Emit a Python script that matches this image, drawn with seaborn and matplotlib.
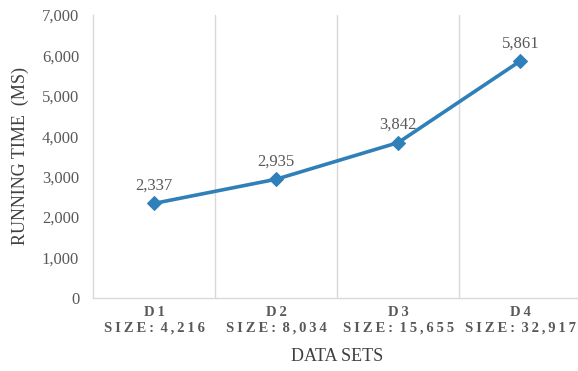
import matplotlib
matplotlib.use("Agg")
import matplotlib.pyplot as plt
import seaborn as sns
import pandas as pd
from matplotlib.ticker import FuncFormatter

datasets = ["D1", "D2", "D3", "D4"]
sizes = ["4,216", "8,034", "15,655", "32,917"]
running_time = [2337, 2935, 3842, 5861]

sns.set_style("white")
plt.rcParams["font.family"] = ["Liberation Serif", "DejaVu Serif"]

df = pd.DataFrame({"pos": range(len(datasets)), "time": running_time})

fig = plt.figure(figsize=(5.78, 3.71), dpi=100)
ax = fig.add_axes([0.161, 0.197, 0.845, 0.763])

line_color = "#2f80b9"
sns.lineplot(data=df, x="pos", y="time", ax=ax, color=line_color, linewidth=2.6,
             marker="D", markersize=7.5, markeredgecolor=line_color,
             markerfacecolor=line_color)

for x, y in zip(df["pos"], df["time"]):
    ax.annotate(f"{y:,}", (x, y), xytext=(0, 7), textcoords="offset points",
                ha="center", va="bottom", fontsize=12, color="#595959")

ax.set_xlim(-0.5, 3.5)
ax.set_ylim(0, 7000)
ax.set_yticks(range(0, 7001, 1000))
ax.yaxis.set_major_formatter(FuncFormatter(lambda v, p: f"{int(v):,}"))
ax.tick_params(axis="y", labelsize=12, labelcolor="#595959", length=0, pad=10)

def spaced(s):
    return "\u2009".join(s)

ax.set_xticks(range(len(datasets)))
ax.set_xticklabels([f"{spaced(d)}\n{spaced('SIZE:')}\u2009 {spaced(s)}" for d, s in zip(datasets, sizes)],
                   fontsize=10.5, fontweight="semibold", color="#595959", linespacing=1.2)
ax.tick_params(axis="x", length=0, pad=6)

for b in [0.5, 1.5, 2.5]:
    ax.axvline(b, color="#d9d9d9", linewidth=1, zorder=0)

for side in ["top", "right"]:
    ax.spines[side].set_visible(False)
for side in ["left", "bottom"]:
    ax.spines[side].set_color("#d9d9d9")
    ax.spines[side].set_linewidth(1)

ax.set_xlabel("DATA SETS", fontsize=13, color="#404040", labelpad=10)
ax.set_ylabel("RUNNING TIME  (MS)", fontsize=13, color="#404040", labelpad=9)

fig.savefig("out.png", dpi=100)
